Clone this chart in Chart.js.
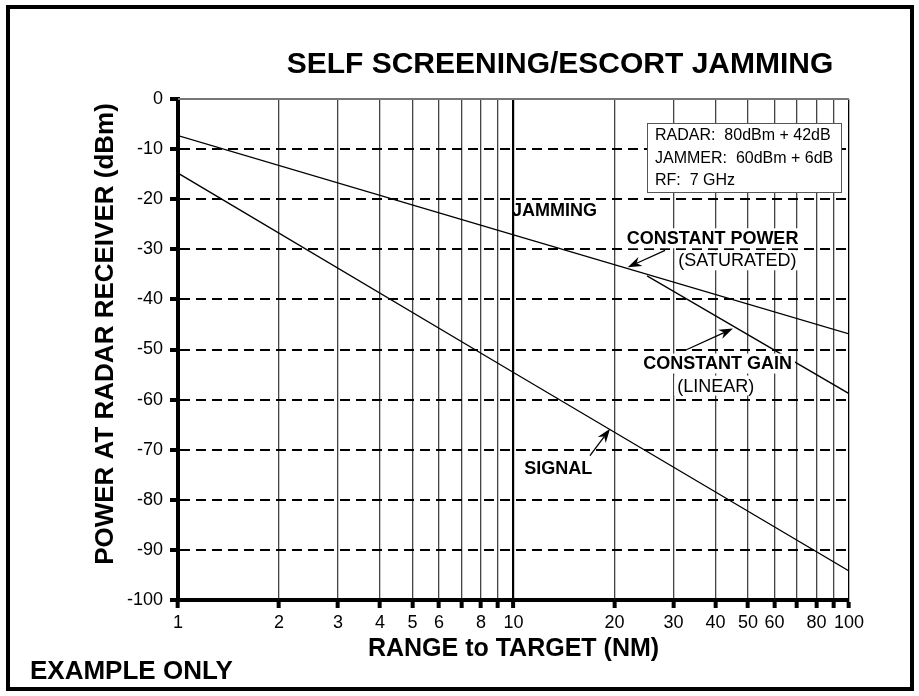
<!DOCTYPE html>
<html>
<head>
<meta charset="utf-8">
<script src="https://cdn.jsdelivr.net/npm/chart.js@4.4.0/dist/chart.umd.min.js"></script>
<style>
  html, body { margin: 0; padding: 0; background: #fff; }
  canvas { display: block; }
</style>
</head>
<body>
<canvas id="grafico" width="919" height="696"></canvas>
<script>
// range to target (NM) vs power at the radar receiver (dBm)
const signalRange = [1, 10, 100];
const signalDbm = [-14.8, -54.6, -94.2];

const powerRange = [1, 10, 100];          // constant power (saturated)
const powerDbm = [-7.3, -27.1, -46.9];

const gainRange = [25, 100];              // constant gain (linear)
const gainDbm = [-35.3, -58.8];

const xTicks = [1, 2, 3, 4, 5, 6, 7, 8, 9, 10, 20, 30, 40, 50, 60, 70, 80, 90, 100];
const xTickLabels = [1, 2, 3, 4, 5, 6, 8, 10, 20, 30, 40, 50, 60, 80, 100];
const yTicks = [0, -10, -20, -30, -40, -50, -60, -70, -80, -90, -100];

const boxLines = ['RADAR:  80dBm + 42dB', 'JAMMER:  60dBm + 6dB', 'RF:  7 GHz'];

// labels placed in data units (range, dBm)
const notes = [
  { text: 'JAMMING', x: 9.9, y: -22.2, bold: true, align: 'left', bg: false },
  { text: 'CONSTANT POWER', x: 39.2, y: -27.8, bold: true, align: 'center', bg: true },
  { text: '(SATURATED)', x: 46.5, y: -32.2, bold: false, align: 'center', bg: true },
  { text: 'CONSTANT GAIN', x: 40.6, y: -52.8, bold: true, align: 'center', bg: true },
  { text: '(LINEAR)', x: 40.1, y: -57.2, bold: false, align: 'center', bg: true },
  { text: 'SIGNAL', x: 13.6, y: -73.6, bold: true, align: 'center', bg: false }
];
const arrows = [
  { from: [28.3, -30.2], to: [21.9, -33.6] },
  { from: [32.4, -50.2], to: [45.1, -45.8] },
  { from: [16.9, -71.2], to: [19.4, -65.8] }
];

const fonte = "'Liberation Sans', Arial, Helvetica, sans-serif";

function toPoints(xs, ys) {
  return xs.map((x, i) => ({ x: x, y: ys[i] }));
}

function drawArrow(ctx, x1, y1, x2, y2) {
  const a = Math.atan2(y2 - y1, x2 - x1);
  const c = Math.cos(a), s = Math.sin(a);
  const len = 14, w = 5;
  ctx.beginPath();
  ctx.moveTo(x1, y1);
  ctx.lineTo(x2 - c * len * 0.7, y2 - s * len * 0.7);
  ctx.stroke();
  ctx.beginPath();
  ctx.moveTo(x2, y2);
  ctx.lineTo(x2 - c * len + s * w, y2 - s * len - c * w);
  ctx.lineTo(x2 - c * len * 0.7, y2 - s * len * 0.7);
  ctx.lineTo(x2 - c * len - s * w, y2 - s * len + c * w);
  ctx.closePath();
  ctx.fill();
}

const extras = {
  id: 'extras',
  beforeDraw(chart) {
    const ctx = chart.ctx;
    ctx.save();
    ctx.fillStyle = '#fff';
    ctx.fillRect(0, 0, chart.width, chart.height);
    ctx.restore();
  },
  beforeDatasetsDraw(chart) {
    const ctx = chart.ctx, a = chart.chartArea;
    ctx.save();
    ctx.strokeStyle = '#777';
    ctx.lineWidth = 2;
    ctx.beginPath();
    ctx.moveTo(a.left, a.top);
    ctx.lineTo(a.right, a.top);
    ctx.stroke();
    ctx.restore();
  },
  afterDatasetsDraw(chart) {
    const ctx = chart.ctx, a = chart.chartArea;
    const xs = chart.scales.x, ys = chart.scales.y;
    ctx.save();

    // parameter box
    const bx = a.right - 202, by = a.top + 24, bw = 194, bh = 69;
    ctx.fillStyle = '#fff';
    ctx.fillRect(bx, by, bw, bh);
    ctx.strokeStyle = '#555';
    ctx.lineWidth = 1;
    ctx.strokeRect(bx + 0.5, by + 0.5, bw, bh);
    ctx.fillStyle = '#000';
    ctx.font = '16px ' + fonte;
    ctx.textAlign = 'left';
    ctx.textBaseline = 'middle';
    boxLines.forEach((t, i) => ctx.fillText(t, bx + 8, by + 13 + i * 22.5));

    // curve labels
    notes.forEach(n => {
      const px = xs.getPixelForValue(n.x), py = ys.getPixelForValue(n.y);
      ctx.font = (n.bold ? 'bold ' : '') + '18px ' + fonte;
      const w = ctx.measureText(n.text).width;
      const left = n.align === 'left' ? px : px - w / 2;
      if (n.bg) {
        ctx.fillStyle = '#fff';
        ctx.fillRect(left - 3, py - 10, w + 6, 20);
      }
      ctx.fillStyle = '#000';
      ctx.textAlign = 'left';
      ctx.textBaseline = 'middle';
      ctx.fillText(n.text, left, py + 1);
    });

    ctx.strokeStyle = '#000';
    ctx.fillStyle = '#000';
    ctx.lineWidth = 1.3;
    arrows.forEach(r => {
      drawArrow(ctx,
        xs.getPixelForValue(r.from[0]), ys.getPixelForValue(r.from[1]),
        xs.getPixelForValue(r.to[0]), ys.getPixelForValue(r.to[1]));
    });
    ctx.restore();
  },
  afterDraw(chart) {
    const ctx = chart.ctx, a = chart.chartArea;
    ctx.save();
    ctx.fillStyle = '#000';
    ctx.textBaseline = 'middle';

    ctx.font = 'bold 30px ' + fonte;
    ctx.textAlign = 'center';
    ctx.fillText('SELF SCREENING/ESCORT JAMMING', 560, 65);

    ctx.font = 'bold 25px ' + fonte;
    ctx.fillText('RANGE to TARGET (NM)', (a.left + a.right) / 2, 649);

    ctx.font = 'bold 26px ' + fonte;
    ctx.textAlign = 'left';
    ctx.fillText('EXAMPLE ONLY', 30, 672);

    ctx.save();
    ctx.translate(106, 334);
    ctx.rotate(-Math.PI / 2);
    ctx.textAlign = 'center';
    ctx.font = 'bold 26px ' + fonte;
    ctx.fillText('POWER AT RADAR RECEIVER (dBm)', 0, 0);
    ctx.restore();

    // outer frame
    ctx.strokeStyle = '#000';
    ctx.lineWidth = 4;
    ctx.strokeRect(8, 7, 904, 682);
    ctx.restore();
  }
};

let grafico = document.getElementById('grafico').getContext('2d');

let chartJamming = new Chart(grafico, {
  type: 'line',
  data: {
    datasets: [
      { label: 'Signal', data: toPoints(signalRange, signalDbm) },
      { label: 'Constant power', data: toPoints(powerRange, powerDbm) },
      { label: 'Constant gain', data: toPoints(gainRange, gainDbm) }
    ]
  },
  options: {
    responsive: false,
    animation: false,
    devicePixelRatio: 1,
    layout: { padding: { left: 0, right: 70, top: 99, bottom: 0 } },
    elements: {
      line: { borderColor: '#000', borderWidth: 1.3, tension: 0 },
      point: { radius: 0 }
    },
    plugins: {
      legend: { display: false },
      tooltip: { enabled: false },
      title: { display: false }
    },
    scales: {
      x: {
        type: 'logarithmic',
        min: 1,
        max: 100,
        afterBuildTicks: s => { s.ticks = xTicks.map(v => ({ value: v })); },
        afterFit: s => { s.height = 96; },
        ticks: {
          autoSkip: false,
          maxRotation: 0,
          padding: 4,
          color: '#000',
          font: { family: fonte, size: 18 },
          callback: v => xTickLabels.includes(v) ? String(v) : ''
        },
        grid: {
          color: c => (c.tick && (c.tick.value === 10 || c.tick.value === 100)) ? '#000' : '#444',
          lineWidth: c => (c.tick && c.tick.value === 10) ? 2.2 : 1.3,
          tickLength: 8,
          tickWidth: 4,
          tickColor: '#000'
        },
        border: { color: '#000', width: 4 }
      },
      y: {
        min: -100,
        max: 0,
        afterBuildTicks: s => { s.ticks = yTicks.map(v => ({ value: v })); },
        afterFit: s => { s.width = 178; },
        ticks: {
          padding: 7,
          color: '#000',
          font: { family: fonte, size: 18 },
          callback: v => String(v)
        },
        grid: {
          color: c => (c.tick && c.tick.value === 0) ? 'rgba(0,0,0,0)' : '#000',
          lineWidth: 2,
          tickLength: 8,
          tickWidth: 4,
          tickColor: '#000'
        },
        border: { color: '#000', width: 4, dash: [10, 6] }
      }
    }
  },
  plugins: [extras]
});
</script>
</body>
</html>
